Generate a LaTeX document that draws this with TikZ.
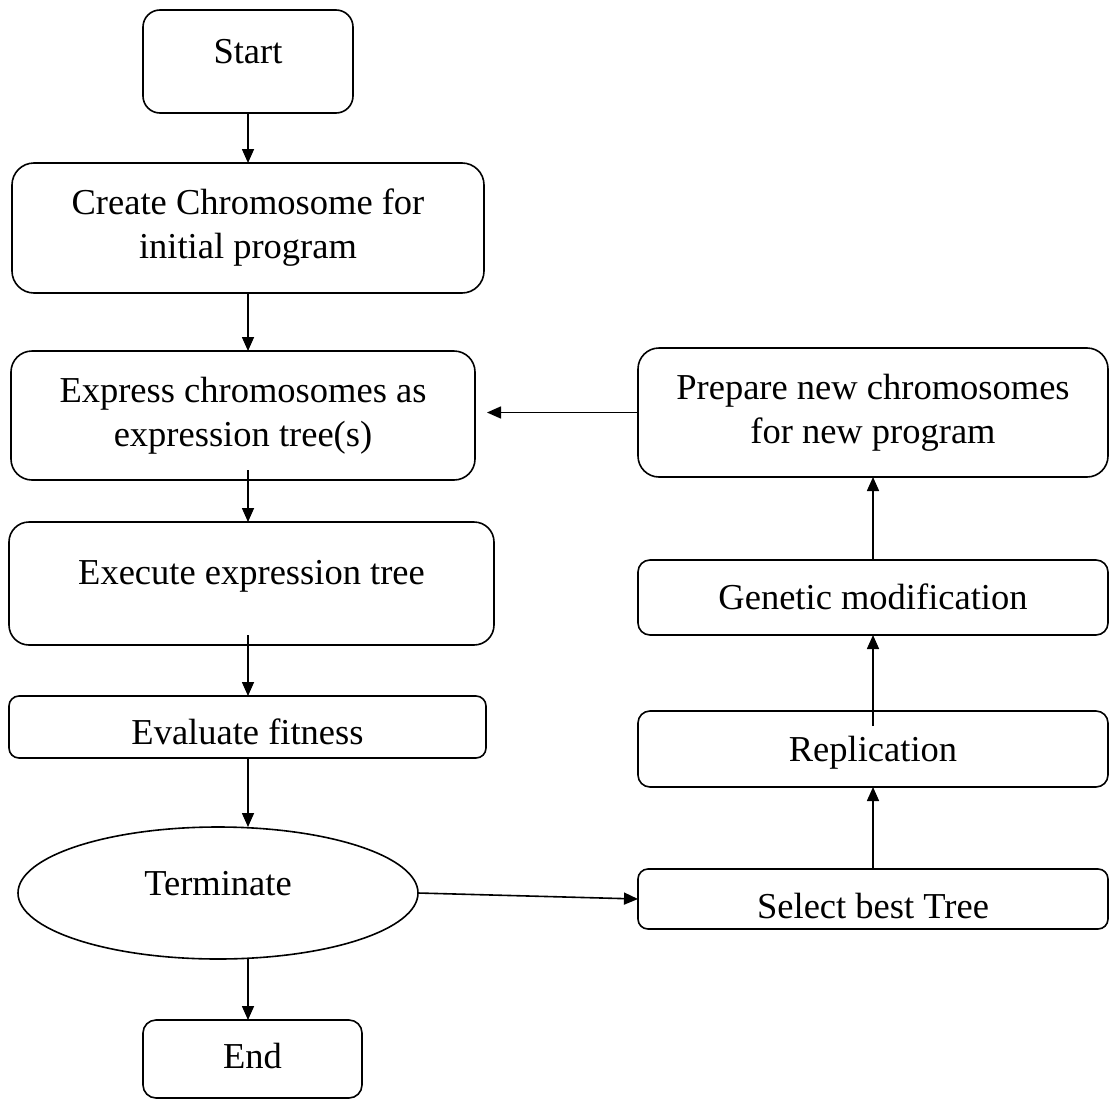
\documentclass[tikz,border=0pt]{standalone}
\usepackage{fontspec}
\setmainfont{Liberation Serif}
\usetikzlibrary{shapes.geometric,arrows.meta,calc}
\begin{document}
\begin{tikzpicture}[x=1pt,y=-1pt,
  every node/.style={font=\fontsize{36.5}{44}\selectfont, inner sep=0pt, outer sep=0pt, line width=1.6pt},
  rbox/.style n args={3}{draw=black, rectangle, minimum width=#1pt, minimum height=#2pt, rounded corners=#3pt, align=center},
  th/.style 2 args={text height=#1pt, text depth=#2pt},
  arr/.style={-{Triangle[length=14pt,width=12pt]}, line width=1.6pt, draw=black}]
\useasboundingbox (0,0) rectangle (1111,1100);
\fill[white] (0,0) rectangle (1111,1100);

\node[rbox={210}{103}{17}, th={26}{22}] (start) at (248,61.5) {Start};
\node[rbox={472}{130}{22}] (create) at (248,228) {Create Chromosome for\\initial program};
\node[rbox={464}{129}{21}] (express) at (243,415.5) {Express chromosomes as\\expression tree(s)};
\node[rbox={485}{123}{20}, th={26}{24}] (execute) at (251.5,583.5) {Execute expression tree};
\node[rbox={477}{62}{10}, th={43}{9}] (evaluate) at (247.5,727) {Evaluate fitness};
\node[ellipse, draw=black, minimum width=400pt, minimum height=132pt, th={26}{22}] (terminate) at (218,893) {Terminate};
\node[rbox={219}{78}{13}, th={26}{8}] (end) at (252.5,1059) {End};
\node[rbox={470}{129}{21}] (prepare) at (873,412.5) {Prepare new chromosomes\\for new program};
\node[rbox={470}{75}{12}, th={33}{9}] (genetic) at (873,597.5) {Genetic modification};
\node[rbox={470}{76}{12}, th={33}{9}] (replication) at (873,749) {Replication};
\node[rbox={470}{60}{10}, th={47}{9}] (select) at (873,899) {Select best Tree};

\coordinate (spine) at (248,0);

\draw[arr] (start.south -| spine) -- (create.north -| spine);
\draw[arr] (create.south -| spine) -- (express.north -| spine);
\draw[arr] ($(express.south -| spine)+(0,-10)$) -- (execute.north -| spine);
\draw[arr] ($(execute.south -| spine)+(0,-10)$) -- (evaluate.north -| spine);
\draw[arr] (evaluate.south -| spine) -- (terminate.north -| spine);
\draw[arr] (terminate.south -| spine) -- (end.north -| spine);
\draw[arr] (terminate.east) -- (select.west);
\draw[arr] (select.north) -- (replication.south);
\draw[arr] ($(replication.north)+(0,15)$) -- (genetic.south);
\draw[arr] (genetic.north) -- (prepare.south);
\draw[arr] (prepare.west) -- ($(express.east |- prepare.west)+(12,0)$);
\end{tikzpicture}
\end{document}
